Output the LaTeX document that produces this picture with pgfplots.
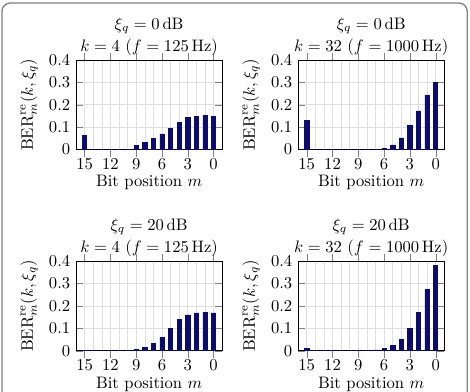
\documentclass[border=0pt]{standalone}
\usepackage{pgfplots}
\pgfplotsset{compat=1.18}

\definecolor{barblue}{RGB}{12,12,110}

\pgfplotsset{
  berstyle/.style={
    scale only axis, width=88pt, height=54pt,
    anchor=north west,
    ybar, bar width=0.5,
    x dir=reverse, xmin=-1, xmax=16, ymin=0, ymax=0.4,
    xtick={0,3,6,9,12,15}, minor xtick={-1,0,...,16},
    ytick={0,0.1,0.2,0.3,0.4},
    xmajorgrids, xminorgrids, ymajorgrids,
    grid style={gray!25}, minor grid style={gray!25},
    minor tick length=0pt,
    xticklabel style={yshift=2.5pt},
    xlabel={Bit position $m$},
    xlabel style={yshift=3pt},
    ylabel={$\mathrm{BER}^{\mathrm{re}}_m(k,\xi_q)$},
    title style={align=center, yshift=-7pt},
  },
  berbar/.style={fill=barblue, draw=barblue},
}

\begin{document}
\begin{tikzpicture}
\useasboundingbox (0,0) rectangle (283pt,-236pt);
% rounded frame around the figure
\draw[gray, line width=0.8pt, rounded corners=5pt]
  (1.2pt,-245pt) -- (1.2pt,-1.8pt) -- (281.3pt,-1.8pt) -- (281.3pt,-245pt);

% xi_q = 0 dB, k = 4
\begin{axis}[berstyle, at={(45.8pt,-36.1pt)},
  title={$\xi_q = 0\,\mathrm{dB}$\\[1.5pt]$k = 4\ (f = 125\,\mathrm{Hz})$}]
\addplot[berbar] coordinates {
  (15,0.065) (14,0) (13,0) (12,0) (11,0) (10,0) (9,0.019) (8,0.033)
  (7,0.050) (6,0.070) (5,0.094) (4,0.122) (3,0.142) (2,0.147) (1,0.151) (0,0.149)};
\end{axis}

% xi_q = 0 dB, k = 32
\begin{axis}[berstyle, at={(179.5pt,-36.1pt)},
  title={$\xi_q = 0\,\mathrm{dB}$\\[1.5pt]$k = 32\ (f = 1000\,\mathrm{Hz})$}]
\addplot[berbar] coordinates {
  (15,0.129) (14,0) (13,0) (12,0) (11,0) (10,0) (9,0) (8,0)
  (7,0) (6,0.005) (5,0.021) (4,0.052) (3,0.107) (2,0.173) (1,0.244) (0,0.300)};
\end{axis}

% xi_q = 20 dB, k = 4
\begin{axis}[berstyle, at={(45.8pt,-157.2pt)},
  title={$\xi_q = 20\,\mathrm{dB}$\\[1.5pt]$k = 4\ (f = 125\,\mathrm{Hz})$}]
\addplot[berbar] coordinates {
  (15,0.003) (14,0) (13,0) (12,0) (11,0) (10,0) (9,0.006) (8,0.015)
  (7,0.031) (6,0.060) (5,0.100) (4,0.140) (3,0.160) (2,0.169) (1,0.170) (0,0.169)};
\end{axis}

% xi_q = 20 dB, k = 32
\begin{axis}[berstyle, at={(179.5pt,-157.2pt)},
  title={$\xi_q = 20\,\mathrm{dB}$\\[1.5pt]$k = 32\ (f = 1000\,\mathrm{Hz})$}]
\addplot[berbar] coordinates {
  (15,0.010) (14,0) (13,0) (12,0) (11,0) (10,0) (9,0) (8,0)
  (7,0.004) (6,0.009) (5,0.022) (4,0.049) (3,0.099) (2,0.172) (1,0.272) (0,0.382)};
\end{axis}
\end{tikzpicture}
\end{document}
